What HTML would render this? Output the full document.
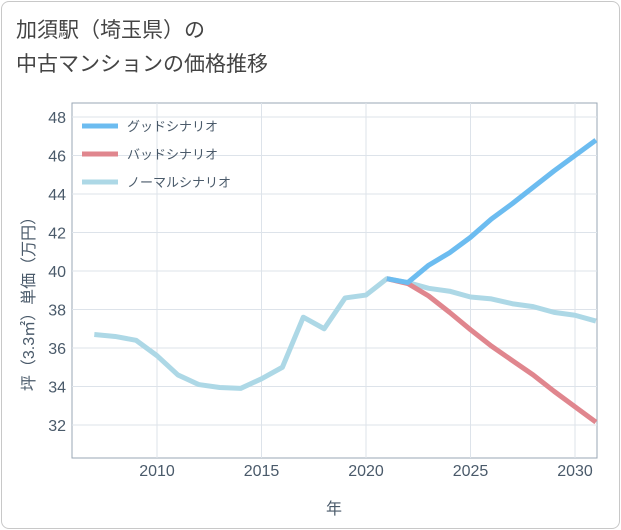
<!DOCTYPE html>
<html><head><meta charset="utf-8"><style>
body{margin:0;background:#fff;}
#wrap{position:relative;width:621px;height:530px;font-family:"Liberation Sans","Noto Sans CJK JP",sans-serif;}
.frame{position:absolute;left:1px;top:1px;width:617px;height:526px;border:1px solid #c8c8c8;border-radius:8px;}
.title{position:absolute;left:16px;top:14px;font-size:21px;line-height:34px;color:#444;}
</style></head><body>
<div id="wrap">
<div class="frame"></div>
<div class="title">加須駅（埼玉県）の<br>中古マンションの価格推移</div>
<svg id="chart" width="621" height="530" style="position:absolute;left:0;top:0"></svg>
</div>
<script>
const years=[2007,2008,2009,2010,2011,2012,2013,2014,2015,2016,2017,2018,2019,2020,2021,2022,2023,2024,2025,2026,2027,2028,2029,2030,2031];
const normal=[36.7,36.6,36.4,35.6,34.6,34.1,33.95,33.9,34.4,35.0,37.6,37.0,38.6,38.75,39.6,39.4,39.1,38.95,38.65,38.55,38.3,38.15,37.85,37.7,37.4];
const goodYears=[2021,2022,2023,2024,2025,2026,2027,2028,2029,2030,2031];
const good=[39.6,39.4,40.3,40.95,41.75,42.7,43.5,44.35,45.2,46.0,46.8];
const bad=[39.6,39.35,38.7,37.85,36.95,36.1,35.35,34.6,33.75,32.95,32.15];
const yTicks=[32,34,36,38,40,42,44,46,48];
const xTicks=[2010,2015,2020,2025,2030];
const L=72,R=597,T=103,B=458;
const xs=y=>157+(y-2010)*20.9;
const ys=v=>425-(v-32)*19.25;
const svg=document.getElementById('chart');
const NS='http://www.w3.org/2000/svg';
function mk(t,a){const e=document.createElementNS(NS,t);for(const k in a)e.setAttribute(k,a[k]);svg.appendChild(e);return e;}
let bg=mk('rect',{x:L,y:T,width:R-L,height:B-T,fill:'#fff',stroke:'#9aa7b4','stroke-width':1});


yTicks.forEach(v=>{
 let g=mk('line',{x1:L,x2:R,y1:ys(v),y2:ys(v),stroke:'#dde3ea'});
 
 
 let t=mk('text',{x:66,y:ys(v)+6,'text-anchor':'end','font-size':16,fill:'#4a5a6a'});
 t.textContent=v;
 
 
});
xTicks.forEach(v=>{
 let g=mk('line',{x1:xs(v),x2:xs(v),y1:T,y2:B,stroke:'#dde3ea'});
 
 
 let t=mk('text',{x:xs(v),y:476,'text-anchor':'middle','font-size':16,fill:'#4a5a6a'});
 t.textContent=v;
 
 
});
let xt=mk('text',{x:334,y:514,'text-anchor':'middle','font-size':16,fill:'#4a5a6a'});
xt.textContent='年';


let yt=mk('text',{x:0,y:0,'text-anchor':'middle','font-size':16,fill:'#4a5a6a',transform:'translate(34,300) rotate(-90)'});
yt.textContent='坪（3.3㎡）単価（万円）';


function line(xv,yv,c,name){
 const d=xv.map((y,i)=>(i?'L':'M')+xs(y)+','+ys(yv[i])).join(' ');
 let p=mk('path',{d:d,fill:'none',stroke:c,'stroke-width':5,'stroke-linejoin':'round'});
 
 
}
line(years,normal,'#add8e6','normal-line');
line(goodYears,bad,'#e0868e','bad-line');
line(goodYears,good,'#6cbcf0','good-line');
const leg=[['グッドシナリオ','#6cbcf0',126],['バッドシナリオ','#e0868e',154],['ノーマルシナリオ','#add8e6',182]];
leg.forEach(l=>{
 let s=mk('line',{x1:82,x2:118,y1:l[2],y2:l[2],stroke:l[1],'stroke-width':5});
 
 
 let t=mk('text',{x:127,y:l[2]+5,'font-size':13,fill:'#4a5a6a'});
 t.textContent=l[0];
 
 
});
</script>
</body></html>
